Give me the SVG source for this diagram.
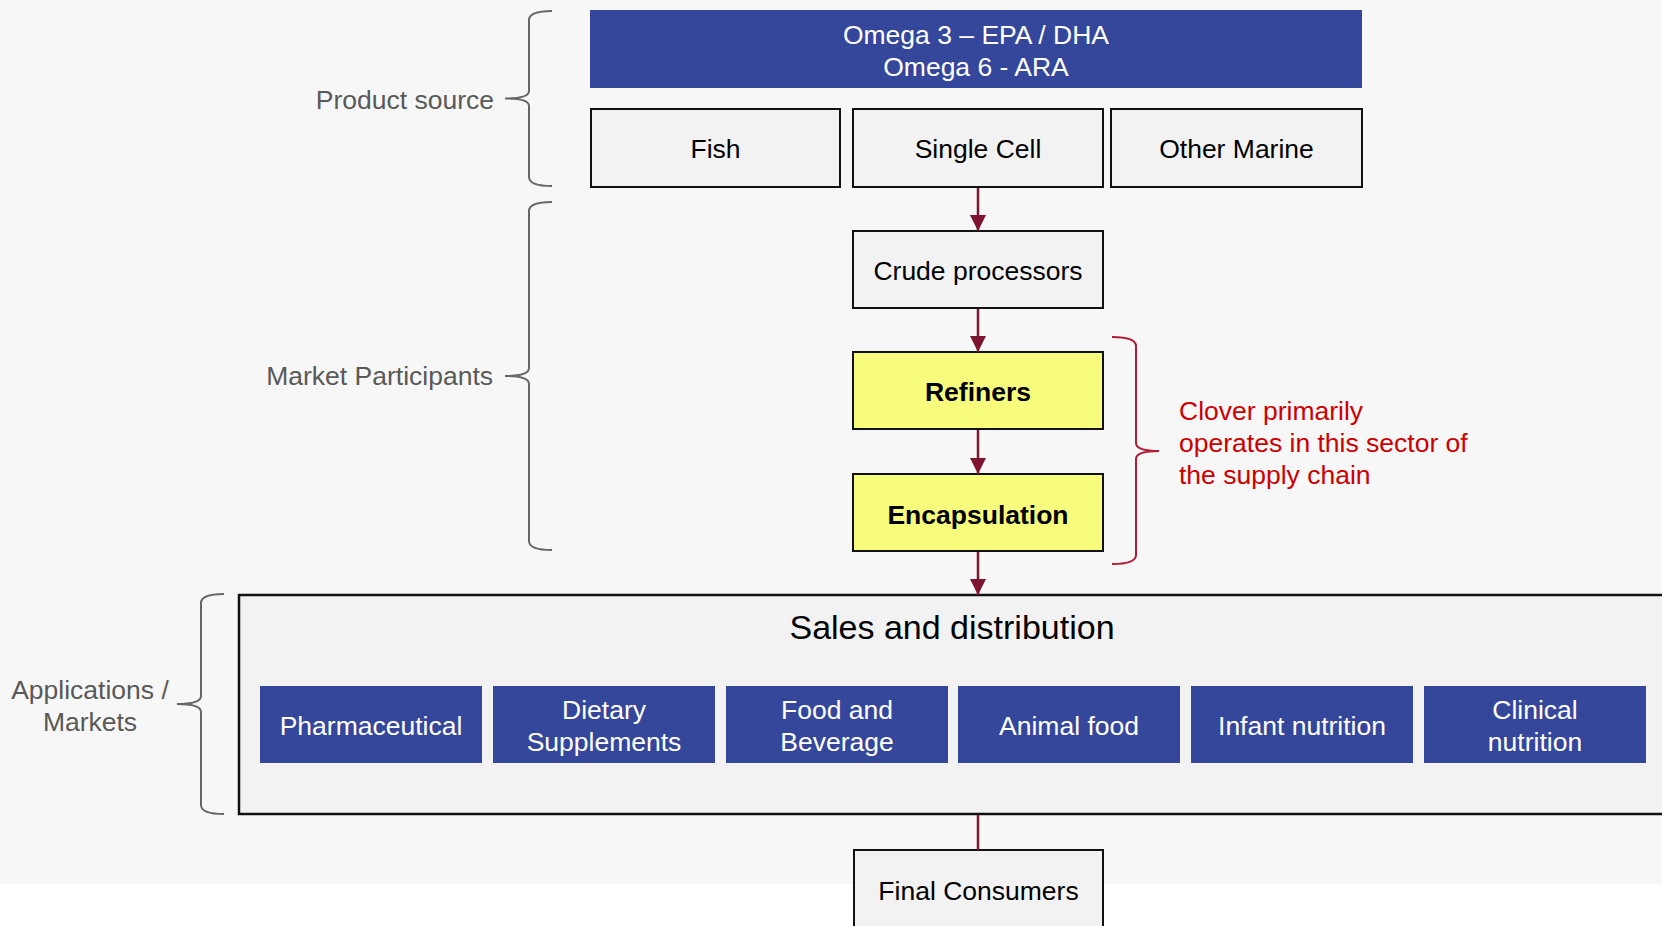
<svg xmlns="http://www.w3.org/2000/svg" width="1662" height="926" viewBox="0 0 1662 926">
<defs>
<style>
text{font-family:"Liberation Sans",Arial,sans-serif;font-size:26.5px}
.box{fill:#f2f2f2;stroke:#111;stroke-width:2}
.yel{fill:#f8fc7c;stroke:#111;stroke-width:2}
.blue{fill:#34479b}
.wt{fill:#fff;text-anchor:middle}
.bt{fill:#000;text-anchor:middle}
.bold{font-weight:bold}
.lbl{fill:#595959}
.brace{fill:none;stroke:#666;stroke-width:2}
.rbrace{fill:none;stroke:#b01a33;stroke-width:2}
.conn{stroke:#7d1530;stroke-width:2.5;fill:none}
.red{fill:#cc0000}
</style>
<marker id="arr" markerWidth="16" markerHeight="16" refX="16" refY="8" orient="auto" markerUnits="userSpaceOnUse">
<path d="M0,0 L16,8 L0,16 Z" fill="#7d1530"/>
</marker>
</defs>
<rect x="0" y="0" width="1662" height="926" fill="#ffffff"/>
<rect x="0" y="0" width="1662" height="884" fill="#f7f7f7"/>

<g id="brace-source">
<path class="brace" d="M552,11 Q529,11 529,20 L529,91 Q529,98.5 505,98.5 Q529,98.5 529,106 L529,177 Q529,186 552,186"/>
<text class="lbl" x="494" y="108.5" text-anchor="end">Product source</text>
</g>
<g id="brace-participants">
<path class="brace" d="M552,202 Q529,202 529,211 L529,368 Q529,376 505,376 Q529,376 529,384 L529,541 Q529,550 552,550"/>
<text class="lbl" x="493" y="384.5" text-anchor="end">Market Participants</text>
</g>
<g id="brace-markets">
<path class="brace" d="M224,594 Q201,594 201,603 L201,696 Q201,704 177,704 Q201,704 201,712 L201,805 Q201,814 224,814"/>
<text class="lbl" x="90" y="698.5" text-anchor="middle">Applications /</text>
<text class="lbl" x="90" y="730.5" text-anchor="middle">Markets</text>
</g>

<g id="omega">
<rect class="blue" x="590" y="10" width="772" height="78"/>
<text class="wt" x="976" y="44">Omega 3 – EPA / DHA</text>
<text class="wt" x="976" y="75.5">Omega 6 - ARA</text>
</g>
<g id="fish">
<rect class="box" x="591" y="109" width="249" height="78"/>
<text class="bt" x="715.5" y="158">Fish</text>
</g>
<g id="single-cell">
<rect class="box" x="853" y="109" width="250" height="78"/>
<text class="bt" x="978" y="158">Single Cell</text>
</g>
<g id="other-marine">
<rect class="box" x="1111" y="109" width="251" height="78"/>
<text class="bt" x="1236.5" y="158">Other Marine</text>
</g>

<g id="crude">
<rect class="box" x="853" y="231" width="250" height="77"/>
<text class="bt" x="978" y="279.5">Crude processors</text>
</g>
<g id="refiners">
<rect class="yel" x="853" y="352" width="250" height="77"/>
<text class="bt bold" x="978" y="401">Refiners</text>
</g>
<g id="encapsulation">
<rect class="yel" x="853" y="474" width="250" height="77"/>
<text class="bt bold" x="978" y="523.5">Encapsulation</text>
</g>

<g id="clover-note">
<path class="rbrace" d="M1112,337 Q1136,337 1136,346 L1136,443 Q1136,451 1159,451 Q1136,451 1136,459 L1136,555 Q1136,564 1112,564"/>
<text class="red" x="1179" y="419.5">Clover primarily</text>
<text class="red" x="1179" y="451.5">operates in this sector of</text>
<text class="red" x="1179" y="483.5">the supply chain</text>
</g>

<g id="sales">
<rect x="239" y="595" width="1450" height="219" fill="#f2f2f2" stroke="#111" stroke-width="2.5"/>
<text class="bt" x="952" y="639" style="font-size:34px">Sales and distribution</text>
</g>
<g id="pharmaceutical">
<rect class="blue" x="260" y="686" width="222" height="77"/>
<text class="wt" x="371" y="735">Pharmaceutical</text>
</g>
<g id="dietary">
<rect class="blue" x="493" y="686" width="222" height="77"/>
<text class="wt" x="604" y="719">Dietary</text>
<text class="wt" x="604" y="751">Supplements</text>
</g>
<g id="food">
<rect class="blue" x="726" y="686" width="222" height="77"/>
<text class="wt" x="837" y="719">Food and</text>
<text class="wt" x="837" y="751">Beverage</text>
</g>
<g id="animal">
<rect class="blue" x="958" y="686" width="222" height="77"/>
<text class="wt" x="1069" y="735">Animal food</text>
</g>
<g id="infant">
<rect class="blue" x="1191" y="686" width="222" height="77"/>
<text class="wt" x="1302" y="735">Infant nutrition</text>
</g>
<g id="clinical">
<rect class="blue" x="1424" y="686" width="222" height="77"/>
<text class="wt" x="1535" y="719">Clinical</text>
<text class="wt" x="1535" y="751">nutrition</text>
</g>

<g id="final">
<rect class="box" x="854" y="850" width="249" height="110"/>
<text class="bt" x="978.5" y="899.5">Final Consumers</text>
</g>

<g id="connectors">
<line class="conn" x1="978" y1="188" x2="978" y2="231" marker-end="url(#arr)"/>
<line class="conn" x1="978" y1="309" x2="978" y2="352" marker-end="url(#arr)"/>
<line class="conn" x1="978" y1="430" x2="978" y2="474" marker-end="url(#arr)"/>
<line class="conn" x1="978" y1="552" x2="978" y2="595" marker-end="url(#arr)"/>
<line class="conn" x1="978" y1="815" x2="978" y2="850"/>
</g>
</svg>
